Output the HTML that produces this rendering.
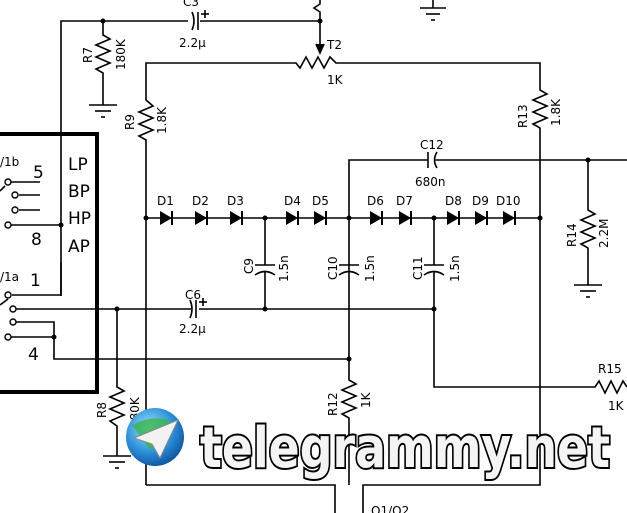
<!DOCTYPE html>
<html><head><meta charset="utf-8"><style>
html,body{margin:0;padding:0;background:#fff;}
svg{display:block;}
text{font-family:"DejaVu Sans","Liberation Sans",sans-serif;fill:#000;}
</style></head><body>
<svg width="627" height="513" viewBox="0 0 627 513" xmlns="http://www.w3.org/2000/svg">
<defs>
<g id="dio"><path d="M-6,-7 L-6,7 L6,0 Z" fill="#000"/><line x1="6" y1="-7" x2="6" y2="7" stroke="#000" stroke-width="2"/></g>
<radialGradient id="glb" cx="40%" cy="35%" r="70%"><stop offset="0" stop-color="#9fe3ff"/><stop offset="0.6" stop-color="#2a8fd8"/><stop offset="1" stop-color="#0c4f9a"/></radialGradient>
</defs>
<g stroke="#000" stroke-width="1.6" fill="none">
<polyline points="61,296 61,21 188,21"/>
<line x1="200" y1="21" x2="320" y2="21"/>
<path d="M192,12 Q196,21 192,30"/><line x1="198" y1="12" x2="198" y2="30"/>
<line x1="201" y1="14" x2="209" y2="14"/><line x1="205" y1="10" x2="205" y2="18"/>
<polyline points="103,21 103,35 110,39 96,45 110,51 96,57 110,63 96,69 103,73 103,105"/>
<line x1="89" y1="105" x2="117" y2="105"/><line x1="95" y1="111" x2="111" y2="111"/><line x1="101" y1="117" x2="105" y2="117"/>
<polyline points="320,0 320,4 314,8 320,12 320,21 320,50"/>
<path d="M316,44 L320,53 L324,44" fill="#000"/>
<line x1="433" y1="0" x2="433" y2="8"/><line x1="420" y1="8" x2="446" y2="8"/><line x1="426" y1="14" x2="440" y2="14"/><line x1="431" y1="20" x2="435" y2="20"/>
<polyline points="146,485 146,140 139,136 153,130 139,124 153,118 139,112 153,106 146,100 146,63 296,63 300,68 306,57 312,68 318,57 324,68 330,57 336,63 540,63 540,90 547,94 533,100 547,106 533,112 547,118 533,124 540,128 540,485 363,485 363,513"/>
<polyline points="335,513 335,485 146,485"/>
<line x1="146" y1="218" x2="540" y2="218"/>
<polyline points="349,359 349,160 428,160"/>
<path d="M428,152 L428,168"/><path d="M437,152 Q432,160 437,168"/>
<line x1="434" y1="160" x2="627" y2="160"/>
<polyline points="588,160 588,210 595,214 581,220 595,226 581,232 595,238 581,244 588,248 588,285"/>
<line x1="574" y1="285" x2="602" y2="285"/><line x1="580" y1="291" x2="596" y2="291"/><line x1="586" y1="297" x2="590" y2="297"/>
<line x1="265" y1="218" x2="265" y2="265"/><line x1="265" y1="271" x2="265" y2="309"/>
<line x1="255" y1="265" x2="275" y2="265"/><path d="M255,275 Q265,268 275,275"/>
<line x1="339" y1="265" x2="359" y2="265"/><path d="M339,275 Q349,268 359,275"/>
<line x1="434" y1="218" x2="434" y2="265"/><line x1="424" y1="265" x2="444" y2="265"/><path d="M424,275 Q434,268 444,275"/>
<polyline points="434,271 434,387 595,387 599,381 605,393 611,381 617,393 623,381 627,387"/>
<line x1="15" y1="309" x2="191" y2="309"/><line x1="199" y1="309" x2="434" y2="309"/>
<path d="M190,300 Q194,309 190,318"/><line x1="196" y1="300" x2="196" y2="318"/>
<line x1="199" y1="302" x2="207" y2="302"/><line x1="203" y1="298" x2="203" y2="306"/>
<polyline points="117,309 117,387 124,391 110,397 124,403 110,409 124,415 110,421 117,426 117,456"/>
<line x1="103" y1="456" x2="131" y2="456"/><line x1="109" y1="462" x2="125" y2="462"/><line x1="115" y1="468" x2="119" y2="468"/>
<polyline points="349,359 349,380 356,384 342,390 356,396 342,402 356,408 342,414 349,418 349,485"/>
<polyline points="61,262 61,295 12,295"/>
<polyline points="15,322 54,322 54,359 349,359"/>
<line x1="11" y1="337" x2="54" y2="337"/>
<line x1="10" y1="182" x2="40" y2="182"/><line x1="19" y1="195" x2="40" y2="195"/><line x1="19" y1="210" x2="40" y2="210"/><line x1="11" y1="225" x2="61" y2="225"/>
<line x1="5" y1="186" x2="0" y2="191"/><line x1="8" y1="299" x2="0" y2="305"/>
</g>
<g stroke="#000" stroke-width="1.4" fill="#fff">
<circle cx="8" cy="182" r="3"/><circle cx="15" cy="195" r="3"/><circle cx="15" cy="210" r="3"/><circle cx="8" cy="225" r="3"/>
<circle cx="8" cy="295" r="3"/><circle cx="13" cy="309" r="3"/><circle cx="13" cy="322" r="3"/><circle cx="8" cy="337" r="3"/>
</g>
<polyline points="0,134 97,134 97,392 0,392" fill="none" stroke="#000" stroke-width="4"/>
<g fill="#000">
<circle cx="103" cy="21" r="2.5"/><circle cx="61" cy="225" r="2.5"/><circle cx="146" cy="218" r="2.5"/><circle cx="265" cy="218" r="2.5"/><circle cx="349" cy="218" r="2.5"/><circle cx="434" cy="218" r="2.5"/><circle cx="540" cy="218" r="2.5"/><circle cx="588" cy="160" r="2.5"/><circle cx="117" cy="309" r="2.5"/><circle cx="265" cy="309" r="2.5"/><circle cx="434" cy="309" r="2.5"/><circle cx="54" cy="337" r="2.5"/><circle cx="349" cy="359" r="2.5"/><circle cx="320" cy="21" r="2.5"/>
</g>
<use href="#dio" x="166" y="218"/><use href="#dio" x="201" y="218"/><use href="#dio" x="236" y="218"/><use href="#dio" x="292" y="218"/><use href="#dio" x="320" y="218"/><use href="#dio" x="376" y="218"/><use href="#dio" x="405" y="218"/><use href="#dio" x="453" y="218"/><use href="#dio" x="481" y="218"/><use href="#dio" x="509" y="218"/>
<g font-size="12">
<text x="157" y="205">D1</text><text x="192" y="205">D2</text><text x="227" y="205">D3</text><text x="284" y="205">D4</text><text x="312" y="205">D5</text><text x="367" y="205">D6</text><text x="396" y="205">D7</text><text x="445" y="205">D8</text><text x="472" y="205">D9</text><text x="496" y="205">D10</text>
<text x="179" y="47">2.2μ</text><text x="183" y="6">C3</text>
<text x="327" y="49">T2</text><text x="327" y="84">1K</text>
<text x="420" y="149">C12</text><text x="415" y="186">680n</text>
<text x="185" y="299">C6</text><text x="179" y="333">2.2μ</text>
<text x="598" y="373">R15</text><text x="608" y="410">1K</text>
<text x="371" y="515">Q1/Q2</text>
<text transform="translate(92,63) rotate(-90)">R7</text><text transform="translate(125,70) rotate(-90)">180K</text>
<text transform="translate(134,130) rotate(-90)">R9</text><text transform="translate(166,134) rotate(-90)">1.8K</text>
<text transform="translate(527,128) rotate(-90)">R13</text><text transform="translate(560,126) rotate(-90)">1.8K</text>
<text transform="translate(576,247) rotate(-90)">R14</text><text transform="translate(608,248) rotate(-90)">2.2M</text>
<text transform="translate(253,274) rotate(-90)">C9</text><text transform="translate(288,282) rotate(-90)">1.5n</text>
<text transform="translate(337,280) rotate(-90)">C10</text><text transform="translate(374,282) rotate(-90)">1.5n</text>
<text transform="translate(422,280) rotate(-90)">C11</text><text transform="translate(459,282) rotate(-90)">1.5n</text>
<text transform="translate(106,418) rotate(-90)">R8</text><text transform="translate(139,428) rotate(-90)">180K</text>
<text transform="translate(337,416) rotate(-90)">R12</text><text transform="translate(370,408) rotate(-90)">1K</text>
<text x="0" y="166">/1b</text><text x="0" y="281">/1a</text>
</g>
<g font-size="17">
<text x="68" y="170">LP</text><text x="68" y="197">BP</text><text x="68" y="224">HP</text><text x="68" y="252">AP</text>
<text x="33" y="178">5</text><text x="31" y="245">8</text><text x="30" y="286">1</text><text x="28" y="360">4</text>
</g>
<circle cx="155" cy="437" r="29" fill="url(#glb)"/>
<path d="M132,425 Q150,415 170,420 Q160,440 150,450 Z" fill="#3bb54a" opacity="0.8"/>
<path d="M134,438 L178,420 L160,458 L152,444 Z" fill="#f2f2f2" stroke="#888" stroke-width="1"/>
<text x="200" y="467" font-size="56" font-weight="bold" style="fill:#f4f4f4;stroke:#000;stroke-width:4px;paint-order:stroke;font-family:'DejaVu Sans','Liberation Sans',sans-serif;font-weight:bold" textLength="410" lengthAdjust="spacingAndGlyphs">telegrammy.net</text>
</svg>
</body></html>
